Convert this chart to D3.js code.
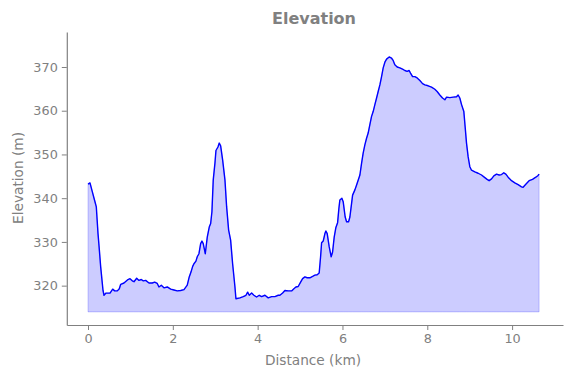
<!DOCTYPE html>
<html>
<head>
<meta charset="utf-8">
<script src="https://cdn.jsdelivr.net/npm/d3@7"></script>
<style>
  body { margin: 0; background: #fff; }
  text { font-family: "DejaVu Sans", sans-serif; fill: #808080; }
</style>
</head>
<body>
<script>
// distance along the route (km) and elevation (m)
var distance = [0, 0.047, 0.101, 0.158, 0.196, 0.236, 0.259, 0.299, 0.354, 0.377, 0.424, 0.519, 0.582, 0.629, 0.691, 0.738, 0.771, 0.848, 0.943, 0.99,
  1.044, 1.084, 1.148, 1.202, 1.256, 1.303, 1.36, 1.438, 1.515, 1.572, 1.633, 1.673, 1.728, 1.791, 1.869, 1.949, 2.027, 2.105, 2.185, 2.263,
  2.340, 2.387, 2.428, 2.468, 2.498, 2.545, 2.576, 2.616, 2.656, 2.687, 2.717, 2.765, 2.812, 2.859, 2.892, 2.922, 2.953, 2.993, 3.017, 3.064,
  3.095, 3.127, 3.175, 3.229, 3.269, 3.316, 3.363, 3.41, 3.465, 3.488, 3.582, 3.66, 3.724, 3.764, 3.802, 3.858, 3.912, 3.976, 4.037, 4.094,
  4.172, 4.249, 4.33, 4.407, 4.485, 4.525, 4.589, 4.643, 4.721, 4.801, 4.855, 4.902, 4.956, 5.013, 5.06, 5.114, 5.168, 5.232, 5.296, 5.35,
  5.404, 5.451, 5.484, 5.508, 5.546, 5.586, 5.609, 5.64, 5.687, 5.734, 5.767, 5.805, 5.845, 5.885, 5.916, 5.939, 5.986, 6.017, 6.064, 6.097,
  6.144, 6.175, 6.215, 6.239, 6.293, 6.333, 6.411, 6.451, 6.488, 6.528, 6.568, 6.606, 6.646, 6.686, 6.724, 6.764, 6.804, 6.842, 6.882, 6.922,
  6.96, 7.0, 7.04, 7.101, 7.158, 7.195, 7.235, 7.29, 7.353, 7.417, 7.471, 7.525, 7.572, 7.605, 7.653, 7.707, 7.761, 7.825, 7.888, 7.943,
  8.02, 8.1, 8.178, 8.232, 8.296, 8.359, 8.414, 8.454, 8.532, 8.61, 8.69, 8.727, 8.767, 8.808, 8.862, 8.892, 8.925, 8.963, 9.003, 9.043,
  9.121, 9.199, 9.279, 9.357, 9.411, 9.458, 9.515, 9.569, 9.633, 9.694, 9.75, 9.804, 9.852, 9.906, 9.986, 10.064, 10.142, 10.222, 10.259, 10.323,
  10.401, 10.481, 10.559, 10.613, 10.636];

var elevation = [343.2, 343.5, 341.5, 339.4, 338, 331.9, 329.2, 324.3, 318.9, 317.8, 318.3, 318.3, 319.2, 318.8, 318.8, 319.3, 320.3, 320.6, 321.4, 321.6,
  321.1, 320.9, 321.7, 321.2, 321.4, 321.1, 321.2, 320.6, 320.6, 320.8, 320.5, 319.7, 320.1, 319.5, 319.7, 319.2, 319.0, 318.8, 318.9, 319.1,
  320.1, 322, 323.1, 324.4, 325, 325.6, 326.6, 327.3, 329.6, 330.2, 329.6, 327.3, 331.1, 333.4, 334.2, 336.9, 344.2, 348, 350.9, 351.7,
  352.6, 352, 348.7, 344.2, 338, 332.7, 330.4, 325, 319.7, 317, 317.2, 317.5, 317.8, 318.5, 317.8, 318.3, 317.8, 317.4, 317.8, 317.5,
  317.8, 317.2, 317.5, 317.5, 317.8, 317.8, 318.3, 318.9, 318.8, 318.8, 319.3, 319.7, 319.8, 320.8, 321.6, 322, 321.8, 321.8, 322.1, 322.4,
  322.5, 322.9, 326.6, 329.8, 330.2, 331.9, 332.5, 331.9, 328.9, 326.6, 327.7, 331.1, 333.3, 334.4, 337.7, 339.6, 340, 339.2, 335.7, 334.6,
  334.6, 335.7, 338.8, 340.7, 341.9, 343, 345.3, 348, 350.3, 352.2, 353.7, 354.9, 356.8, 358.7, 359.8, 361.4, 362.9, 364.4, 365.9, 367.8,
  369.8, 371.1, 371.8, 372.3, 372, 371.5, 370.5, 370, 369.8, 369.5, 369.2, 369, 369.2, 368.6, 367.8, 367.8, 367.5, 366.9, 366.2, 365.9,
  365.7, 365.4, 364.9, 364.4, 363.6, 362.9, 362.5, 363.1, 363, 363.1, 363.2, 363.6, 362.9, 361.4, 359.8, 356.4, 352.6, 349.5, 347.2, 346.4,
  346, 345.7, 345.3, 344.7, 344.3, 344, 344.4, 345.1, 345.5, 345.3, 345.4, 345.8, 345.5, 344.8, 344, 343.5, 343.1, 342.6, 342.5, 343.2,
  344, 344.3, 344.8, 345.2, 345.5];

var baseElevation = 314;
var xTicks = [0, 2, 4, 6, 8, 10];
var yTicks = [320, 330, 340, 350, 360, 370];

var w = 571;
var h = 378;

var points = distance.map(function(d, i) { return [d, elevation[i]]; });

var svg = d3.select("body")
  .append("svg")
  .attr("width", w)
  .attr("height", h);

var xScale = d3.scaleLinear()
  .domain([-0.5, 11.2])
  .range([66.8, 563]);

var yScale = d3.scaleLinear()
  .domain([311, 378])
  .range([325, 32]);

var area = d3.area()
  .x(function(d) { return xScale(d[0]); })
  .y0(yScale(baseElevation))
  .y1(function(d) { return yScale(d[1]); });

var line = d3.line()
  .x(function(d) { return xScale(d[0]); })
  .y(function(d) { return yScale(d[1]); });

svg.append("path")
  .datum(points)
  .attr("d", area)
  .attr("fill", "rgba(0,0,255,0.2)")
  .attr("stroke", "rgba(0,0,255,0.2)")
  .attr("stroke-width", 1);

svg.append("path")
  .datum(points)
  .attr("d", line)
  .attr("fill", "none")
  .attr("stroke", "#0000ff")
  .attr("stroke-width", 1.4)
  .attr("stroke-linejoin", "round");

var xAxis = d3.axisBottom(xScale)
  .tickValues(xTicks)
  .tickSize(5)
  .tickSizeOuter(0)
  .tickPadding(4)
  .tickFormat(d3.format("d"));

var yAxis = d3.axisLeft(yScale)
  .tickValues(yTicks)
  .tickSize(5)
  .tickSizeOuter(0)
  .tickPadding(4)
  .tickFormat(d3.format("d"));

var gx = svg.append("g")
  .attr("class", "x axis")
  .attr("transform", "translate(0,325)")
  .call(xAxis);

var gy = svg.append("g")
  .attr("class", "y axis")
  .attr("transform", "translate(66.8,0)")
  .call(yAxis);

[gx, gy].forEach(function(g) {
  g.select(".domain").attr("stroke", "#808080").attr("stroke-width", 1.2);
  g.selectAll(".tick line").attr("stroke", "#808080").attr("stroke-width", 1);
  g.selectAll(".tick text")
    .style("font-family", "DejaVu Sans")
    .style("font-size", "12.8px")
    .attr("fill", "#808080");
});

svg.append("text")
  .attr("x", 314)
  .attr("y", 24)
  .style("text-anchor", "middle")
  .style("font-size", "16px")
  .style("font-weight", "bold")
  .text("Elevation");

svg.append("text")
  .attr("x", 313)
  .attr("y", 365)
  .style("text-anchor", "middle")
  .style("font-size", "13.7px")
  .text("Distance (km)");

svg.append("text")
  .attr("transform", "rotate(-90)")
  .attr("x", -178)
  .attr("y", 22.5)
  .style("text-anchor", "middle")
  .style("font-size", "13.7px")
  .text("Elevation (m)");
</script>
</body>
</html>
